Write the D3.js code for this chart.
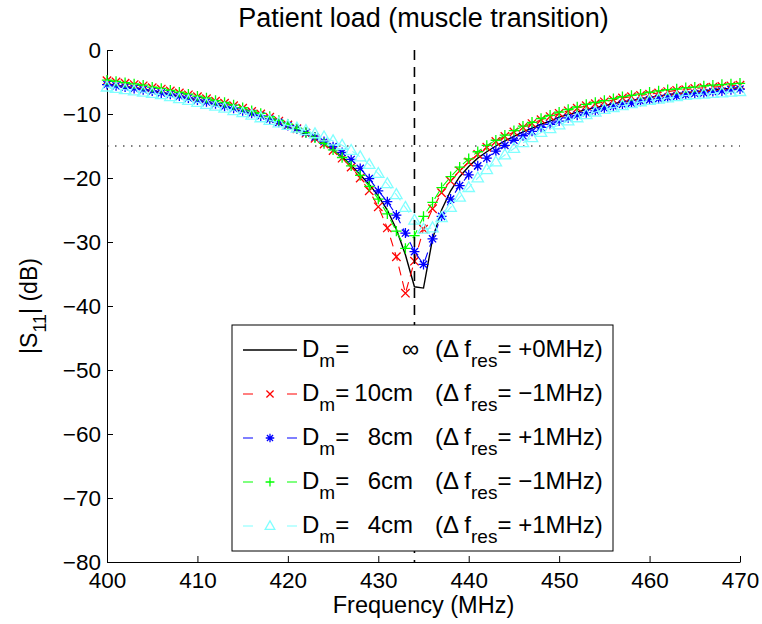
<!DOCTYPE html>
<html><head><meta charset="utf-8">
<script src="https://cdn.jsdelivr.net/npm/d3@7/dist/d3.min.js"></script>
<style>
body{margin:0;background:#fff;}
text{font-family:"Liberation Sans",Arial,Helvetica,sans-serif;fill:#000;}
</style>
</head><body>
<svg id="chart" width="762" height="624"></svg>
<script>
// ---------- data ----------
const freq = [400,401,402,403,404,405,406,407,408,409,410,411,412,413,414,415,416,417,418,419,
  420,421,422,423,424,425,426,427,428,429,430,431,432,433,434,435,436,437,438,439,
  440,441,442,443,444,445,446,447,448,449,450,451,452,453,454,455,456,457,458,459,
  460,461,462,463,464,465,466,467,468,469,470];

const sInf = [-5.3,-5.5,-5.7,-5.9,-6.1,-6.4,-6.6,-6.9,-7.2,-7.5,
  -7.8,-8.1,-8.5,-8.8,-9.2,-9.6,-10.0,-10.5,-11.0,-11.5,
  -12.0,-12.6,-13.2,-13.9,-14.7,-15.6,-16.7,-18.0,-19.5,-21.0,
  -22.8,-25.0,-28.0,-32.0,-37.0,-37.2,-29.5,-25.0,-22.0,-19.8,
  -18.2,-16.9,-15.9,-15.0,-14.2,-13.5,-12.8,-12.2,-11.6,-11.1,
  -10.5,-10.1,-9.7,-9.3,-9.0,-8.7,-8.4,-8.1,-7.9,-7.6,
  -7.4,-7.2,-7.0,-6.8,-6.7,-6.5,-6.4,-6.2,-6.1,-6.0,-5.9];

const s10 = [-4.8,-5.0,-5.2,-5.4,-5.6,-5.9,-6.1,-6.4,-6.7,-7.0,
  -7.3,-7.6,-8.0,-8.3,-8.7,-9.1,-9.6,-10.0,-10.5,-11.1,
  -11.7,-12.3,-13.0,-13.8,-14.7,-15.7,-16.9,-18.3,-20.0,-22.0,
  -24.5,-27.8,-32.3,-38.0,-33.0,-28.0,-24.8,-22.3,-20.5,-18.9,
  -17.5,-16.3,-15.2,-14.3,-13.5,-12.8,-12.1,-11.5,-10.9,-10.4,
  -9.9,-9.5,-9.1,-8.7,-8.4,-8.1,-7.8,-7.5,-7.3,-7.1,
  -6.9,-6.7,-6.5,-6.3,-6.2,-6.0,-5.9,-5.8,-5.7,-5.6,-5.5];

const s8 = [-5.4,-5.6,-5.8,-6.0,-6.2,-6.4,-6.7,-6.9,-7.2,-7.5,
  -7.8,-8.1,-8.4,-8.8,-9.1,-9.5,-9.9,-10.3,-10.8,-11.3,
  -11.8,-12.3,-12.9,-13.6,-14.3,-15.1,-16.0,-17.1,-18.5,-20.1,
  -22.0,-23.7,-25.8,-28.6,-31.5,-33.5,-29.5,-26.0,-23.3,-21.2,
  -19.5,-18.1,-16.9,-15.8,-14.9,-14.1,-13.4,-12.7,-12.1,-11.6,
  -11.1,-10.6,-10.2,-9.8,-9.5,-9.1,-8.8,-8.5,-8.3,-8.0,
  -7.8,-7.6,-7.4,-7.2,-7.0,-6.8,-6.7,-6.5,-6.4,-6.2,-6.1];

const s6 = [-4.7,-4.9,-5.1,-5.3,-5.5,-5.8,-6.0,-6.3,-6.6,-6.9,
  -7.2,-7.5,-7.9,-8.2,-8.6,-9.0,-9.5,-9.9,-10.4,-11.0,
  -11.6,-12.2,-12.9,-13.7,-14.6,-15.6,-16.8,-18.1,-19.6,-21.3,
  -23.3,-25.6,-28.3,-31.0,-29.0,-26.0,-23.8,-21.5,-19.8,-18.3,
  -17.0,-15.9,-14.9,-14.1,-13.3,-12.6,-11.9,-11.3,-10.7,-10.2,
  -9.7,-9.3,-8.9,-8.5,-8.2,-7.9,-7.6,-7.3,-7.1,-6.9,
  -6.6,-6.4,-6.2,-6.1,-5.9,-5.8,-5.6,-5.5,-5.4,-5.3,-5.2];

const s4 = [-5.8,-6.0,-6.2,-6.4,-6.6,-6.8,-7.0,-7.3,-7.6,-7.9,
  -8.2,-8.5,-8.8,-9.1,-9.5,-9.8,-10.2,-10.6,-11.0,-11.4,
  -11.8,-12.2,-12.6,-13.1,-13.6,-14.2,-14.9,-15.7,-16.7,-17.9,
  -19.3,-20.9,-22.6,-24.6,-26.6,-28.0,-27.8,-26.2,-24.6,-23.0,
  -21.5,-20.0,-18.7,-17.5,-16.4,-15.4,-14.5,-13.7,-12.9,-12.3,
  -11.7,-11.1,-10.6,-10.1,-9.7,-9.3,-9.0,-8.7,-8.4,-8.1,
  -7.9,-7.7,-7.5,-7.3,-7.1,-7.0,-6.9,-6.8,-6.7,-6.6,-6.5];

const seriesNames = ["inf","10cm","8cm","6cm","4cm"];
const legendValues = ["\u221E","10cm","8cm","6cm","4cm"];
const legendShifts = ["+0MHz","\u22121MHz","+1MHz","\u22121MHz","+1MHz"];
const xTicks = [400,410,420,430,440,450,460,470];
const yTicks = [0,-10,-20,-30,-40,-50,-60,-70,-80];
const resonance = 434;
const threshold = -15;

// ---------- styles ----------
const colors = ["#000000","#ff0000","#0000ff","#00ff00","#80ffff"];
const markers = [null,"x","star","plus","tri"];
const dashes = [null,"9,6","9,6","9,6","9,6"];
const seriesData = [sInf,s10,s8,s6,s4];

const svg = d3.select("#chart");
const L = 107, R = 740, T = 50, B = 562;
const x = d3.scaleLinear().domain([400,470]).range([L,R]);
const y = d3.scaleLinear().domain([-80,0]).range([B,T]);
const FS = 22;

function markerPath(type){
  if(type==="x"){ const r=4.2; return `M${-r},${-r}L${r},${r}M${-r},${r}L${r},${-r}`; }
  if(type==="plus"){ const r=5.2; return `M0,${-r}L0,${r}M${-r},0L${r},0`; }
  if(type==="star"){ const r=5, d=r*0.72; return `M0,${-r}L0,${r}M${-r},0L${r},0M${-d},${-d}L${d},${d}M${-d},${d}L${d},${-d}`; }
  if(type==="tri"){ const s=6; return `M0,${-s}L${s*0.95},${s*0.65}L${-s*0.95},${s*0.65}Z`; }
  return "";
}

// axes
const yAxis = d3.axisLeft(y).tickValues(yTicks).tickSize(-6).tickSizeOuter(0).tickPadding(6)
  .tickFormat(d => d<0 ? "\u2212"+Math.abs(d) : String(d));
const xAxis = d3.axisBottom(x).tickValues(xTicks).tickSize(-6).tickSizeOuter(0).tickPadding(10);

const gy = svg.append("g").attr("transform",`translate(${L},0)`).call(yAxis);
const gx = svg.append("g").attr("transform",`translate(0,${B})`).call(xAxis);
[gx,gy].forEach(g=>{
  g.attr("font-family",null).attr("font-size",null);
  g.selectAll("text").attr("font-size",FS+0.5).style("font-family",'"Liberation Sans",Arial,sans-serif').attr("fill","#000");
  g.selectAll("line,path").attr("stroke","#000").attr("stroke-width",1);
});
gy.selectAll("text").attr("dy","0.35em");

// reference lines
svg.append("line").attr("x1",x(400)).attr("x2",x(470)).attr("y1",y(threshold)).attr("y2",y(threshold))
  .attr("stroke","#000").attr("stroke-width",1.2).attr("stroke-dasharray","1.5,6.5");

// series
const line = d3.line().x((d,i)=>x(freq[i])).y(d=>y(d));
seriesData.forEach((vals,k)=>{
  const g = svg.append("g").attr("class","series-"+seriesNames[k]);
  g.append("path").attr("d",line(vals)).attr("fill","none").attr("stroke",colors[k])
    .attr("stroke-width", k===0 ? 1.4 : 1.1).attr("stroke-dasharray",dashes[k]);
  if(markers[k]){
    g.selectAll("path.m").data(vals).enter().append("path").attr("class","m")
      .attr("d",markerPath(markers[k]))
      .attr("transform",(d,i)=>`translate(${x(freq[i])},${y(d)})`)
      .attr("fill","none").attr("stroke",colors[k]).attr("stroke-width",1.3);
  }
});

// resonance line
svg.append("line").attr("x1",x(resonance)).attr("x2",x(resonance)).attr("y1",y(0)).attr("y2",y(-80))
  .attr("stroke","#000").attr("stroke-width",1.6).attr("stroke-dasharray","10,7");

// legend
const lg = svg.append("g");
const LX = 232, LY = 325, LW = 381, LH = 226;
const LFS = 24, SFS = 19;
lg.append("rect").attr("x",LX).attr("y",LY).attr("width",LW).attr("height",LH)
  .attr("fill","#fff").attr("stroke","#000").attr("stroke-width",1);
const rowBase = [357,401,445,489,533];
seriesNames.forEach((n,k)=>{
  const cy = rowBase[k]-7;
  if(k===0){
    lg.append("line").attr("x1",243).attr("x2",297).attr("y1",cy).attr("y2",cy).attr("stroke","#000").attr("stroke-width",1.3);
  } else {
    lg.append("line").attr("x1",243).attr("x2",297).attr("y1",cy).attr("y2",cy)
      .attr("stroke",colors[k]).attr("stroke-width",1.1).attr("stroke-dasharray","10,34");
    lg.append("path").attr("d",markerPath(markers[k])).attr("transform",`translate(270,${cy}) scale(0.85)`)
      .attr("fill","none").attr("stroke",colors[k]).attr("stroke-width",1.5);
  }
  const t1 = lg.append("text").attr("x",302).attr("y",rowBase[k]).attr("font-size",LFS);
  t1.append("tspan").text("D");
  t1.append("tspan").attr("dy",10).attr("font-size",SFS).text("m");
  t1.append("tspan").attr("dy",-10).text("=");
  if(k===0){
    lg.append("text").attr("x",402).attr("y",rowBase[k]).attr("font-size",LFS).text(legendValues[k]);
  } else {
    lg.append("text").attr("x",413).attr("y",rowBase[k]).attr("text-anchor","end").attr("font-size",LFS).text(legendValues[k]);
  }
  const t2 = lg.append("text").attr("x",435).attr("y",rowBase[k]).attr("font-size",LFS);
  t2.append("tspan").text("(\u0394 f");
  t2.append("tspan").attr("dy",10).attr("font-size",SFS).text("res");
  t2.append("tspan").attr("dy",-10).text("= "+legendShifts[k]+")");
});

// titles
svg.append("text").attr("x",(L+R)/2).attr("y",27).attr("text-anchor","middle").attr("font-size",27)
  .text("Patient load (muscle transition)");
svg.append("text").attr("x",(L+R)/2).attr("y",613).attr("text-anchor","middle").attr("font-size",23.5)
  .text("Frequency (MHz)");
const yl = svg.append("text").attr("transform",`translate(37,${(T+B)/2}) rotate(-90)`).attr("text-anchor","middle").attr("font-size",FS+1);
yl.append("tspan").text("|S");
yl.append("tspan").attr("dy",9).attr("font-size",18).text("11");
yl.append("tspan").attr("dy",-9).text("| (dB)");
</script>
</body></html>
